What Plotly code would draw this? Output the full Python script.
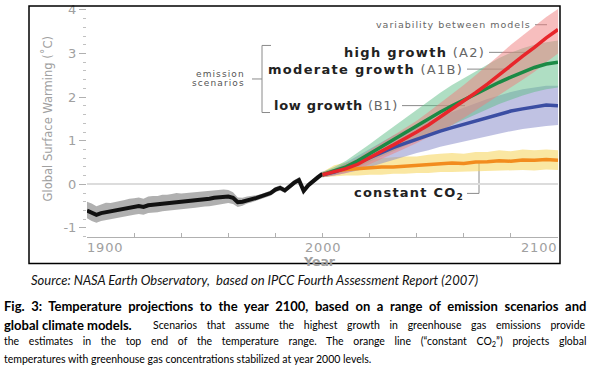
import plotly.graph_objects as go

W, H = 589, 368

# ---------------- data ----------------
hist_years = list(range(1900, 2001, 2))
hist_mean = [-0.60, -0.66, -0.70, -0.66, -0.64, -0.62, -0.60, -0.58, -0.56, -0.53,
             -0.52, -0.50, -0.52, -0.48, -0.47, -0.46, -0.44, -0.43, -0.42, -0.40,
             -0.40, -0.38, -0.37, -0.36, -0.35, -0.34, -0.33, -0.31, -0.30, -0.29,
             -0.28, -0.31, -0.41, -0.40, -0.36, -0.34, -0.31, -0.28, -0.24, -0.20,
             -0.12, -0.08, -0.14, -0.04, 0.04, 0.10, -0.15, -0.02, 0.08, 0.16, 0.24]
hist_upper = [-0.40, -0.44, -0.50, -0.46, -0.42, -0.43, -0.40, -0.38, -0.36, -0.33,
              -0.32, -0.30, -0.33, -0.28, -0.27, -0.27, -0.24, -0.24, -0.22, -0.20,
              -0.21, -0.20, -0.19, -0.18, -0.17, -0.16, -0.15, -0.14, -0.13, -0.12,
              -0.13, -0.18, -0.30, -0.31, -0.28, -0.27, -0.25, -0.22, -0.18, -0.14,
              -0.06, -0.02, -0.08, 0.02, 0.10, 0.16, -0.09, 0.04, 0.14, 0.22, 0.30]
hist_lower = [-0.78, -0.84, -0.88, -0.84, -0.82, -0.80, -0.78, -0.76, -0.74, -0.72,
              -0.70, -0.68, -0.70, -0.66, -0.65, -0.64, -0.62, -0.61, -0.60, -0.58,
              -0.58, -0.56, -0.55, -0.54, -0.53, -0.51, -0.50, -0.48, -0.47, -0.45,
              -0.43, -0.45, -0.52, -0.49, -0.44, -0.41, -0.37, -0.34, -0.30, -0.26,
              -0.18, -0.14, -0.20, -0.10, -0.02, 0.04, -0.21, -0.08, 0.02, 0.10, 0.18]

proj_years = list(range(2000, 2101, 5))
a2_mean = [0.22, 0.28, 0.36, 0.46, 0.62, 0.76, 0.90, 1.04, 1.20, 1.36, 1.54,
           1.72, 1.90, 2.10, 2.30, 2.52, 2.74, 2.94, 3.14, 3.36, 3.55]
a2_lower = [0.16, 0.20, 0.26, 0.34, 0.46, 0.58, 0.70, 0.82, 0.95, 1.08, 1.22,
            1.36, 1.52, 1.68, 1.86, 2.04, 2.22, 2.40, 2.58, 2.80, 3.00]
a2_upper = [0.28, 0.36, 0.46, 0.60, 0.78, 0.95, 1.12, 1.28, 1.46, 1.66, 1.86,
            2.06, 2.28, 2.50, 2.72, 2.96, 3.20, 3.42, 3.64, 3.84, 4.02]

a1b_mean = [0.22, 0.30, 0.40, 0.54, 0.70, 0.86, 1.02, 1.18, 1.36, 1.52, 1.66,
            1.80, 1.94, 2.08, 2.22, 2.34, 2.46, 2.58, 2.68, 2.76, 2.80]
a1b_lower = [0.16, 0.22, 0.30, 0.40, 0.52, 0.64, 0.76, 0.88, 1.00, 1.12, 1.24,
             1.36, 1.48, 1.60, 1.72, 1.84, 1.94, 2.04, 2.12, 2.18, 2.22]
a1b_upper = [0.28, 0.40, 0.54, 0.72, 0.92, 1.12, 1.32, 1.52, 1.72, 1.92, 2.10,
             2.28, 2.44, 2.60, 2.76, 2.90, 3.02, 3.12, 3.20, 3.26, 3.30]

b1_mean = [0.22, 0.28, 0.38, 0.50, 0.62, 0.74, 0.84, 0.94, 1.04, 1.12, 1.22,
           1.30, 1.38, 1.46, 1.54, 1.60, 1.68, 1.73, 1.78, 1.82, 1.80]
b1_lower = [0.16, 0.20, 0.26, 0.32, 0.40, 0.48, 0.56, 0.64, 0.72, 0.78, 0.86,
            0.92, 0.98, 1.04, 1.10, 1.16, 1.22, 1.27, 1.31, 1.34, 1.36]
b1_upper = [0.28, 0.36, 0.50, 0.66, 0.82, 0.98, 1.12, 1.24, 1.36, 1.46, 1.56,
            1.66, 1.76, 1.86, 1.96, 2.04, 2.12, 2.18, 2.22, 2.26, 2.26]

co2_mean = [0.22, 0.30, 0.34, 0.36, 0.37, 0.40, 0.40, 0.42, 0.43, 0.45, 0.47,
            0.49, 0.48, 0.51, 0.52, 0.54, 0.53, 0.56, 0.55, 0.57, 0.55]
co2_lower = [0.16, 0.18, 0.20, 0.20, 0.22, 0.22, 0.24, 0.24, 0.26, 0.26, 0.28,
             0.28, 0.28, 0.30, 0.30, 0.32, 0.32, 0.33, 0.32, 0.34, 0.33]
co2_upper = [0.28, 0.44, 0.50, 0.54, 0.56, 0.60, 0.62, 0.64, 0.64, 0.68, 0.70,
             0.72, 0.70, 0.74, 0.74, 0.78, 0.76, 0.80, 0.78, 0.80, 0.78]

y_ticks = [-1, 0, 1, 2, 3, 4]
y_tick_labels = ["-1", "0", "1", "2", "3", "4"]
x_tick_labels = ["1900", "2000", "2100"]

# ---------------- figure ----------------
def px(x):
    return x / W


def py(y):
    return 1 - y / H


fig = go.Figure()


def band(x, lo, hi, color):
    fig.add_trace(go.Scatter(x=x + x[::-1], y=hi + lo[::-1], fill="toself",
                             fillcolor=color, line=dict(width=0),
                             mode="lines", hoverinfo="skip", showlegend=False))


def line(x, y, color, width):
    fig.add_trace(go.Scatter(x=x, y=y, mode="lines",
                             line=dict(color=color, width=width),
                             showlegend=False))


band(hist_years, hist_lower, hist_upper, "rgba(150,150,150,0.75)")
band(proj_years, co2_lower, co2_upper, "rgba(246,215,100,0.6)")
band(proj_years, b1_lower, b1_upper, "rgba(130,134,200,0.5)")
band(proj_years, a1b_lower, a1b_upper, "rgba(95,190,135,0.5)")
band(proj_years, a2_lower, a2_upper, "rgba(240,125,125,0.5)")

line(hist_years, hist_mean, "#111111", 4)
line(proj_years, co2_mean, "#f28c1e", 3.5)
line(proj_years, b1_mean, "#3b4ea3", 3.5)
line(proj_years, a1b_mean, "#1b8a45", 3.5)
line(proj_years, a2_mean, "#e8262b", 3.5)

x0, x1 = 87, 558
ybot, ytop = 235, 3
zero_py, unit = 181.8, 44.2

fig.update_layout(
    width=W, height=H,
    margin=dict(l=0, r=0, t=0, b=0),
    paper_bgcolor="white", plot_bgcolor="white",
    xaxis=dict(domain=[px(x0), px(x1)], range=[1900, 2100],
               showgrid=False, zeroline=False, showline=True,
               linecolor="#b0b0b0", linewidth=1.2,
               ticks="inside", ticklen=4, tickcolor="#b0b0b0",
               tick0=1900, dtick=20, showticklabels=False),
    yaxis=dict(domain=[py(ybot), py(ytop)],
               range=[(zero_py - ybot) / unit, (zero_py - ytop) / unit],
               showgrid=False, showline=False,
               zeroline=True, zerolinecolor="#dcdcdc", zerolinewidth=1.5,
               tickmode="array", tickvals=y_ticks, ticktext=y_tick_labels,
               ticks="outside", ticklen=7, tickcolor="#b0b0b0",
               ticklabeloverflow="allow",
               tickfont=dict(family="DejaVu Sans", size=13, color="#a0a0a0"),
               minor=dict(dtick=0.2, tick0=0, ticks="outside", ticklen=3,
                          tickcolor="#c0c0c0")),
    font=dict(family="DejaVu Sans"),
)

shapes = []
# outer box
shapes.append(dict(type="rect", xref="paper", yref="paper",
                   x0=px(29), x1=px(560), y0=py(262), y1=py(1),
                   line=dict(color="black", width=1.5), layer="above"))


def seg(xa, ya, xb, yb, color="#8a8a8a", width=1):
    shapes.append(dict(type="line", xref="paper", yref="paper",
                       x0=px(xa), y0=py(ya), x1=px(xb), y1=py(yb),
                       line=dict(color=color, width=width), layer="below"))


# bracket for emission scenarios
seg(262, 41, 262, 109)
seg(262, 41, 271, 41)
seg(262, 109, 270, 109)
seg(252, 75, 262, 75)
# connector lines
seg(535, 20, 547, 20)
seg(489, 48, 527, 48)
seg(467, 65, 510, 65)
seg(402, 102, 465, 102)
seg(467, 191, 479, 191)
seg(479, 191, 479, 158)
fig.update_layout(shapes=shapes)

ann = []


def text(x, y, s, size, color="#222", xanchor="left", yanchor="middle",
         family="DejaVu Sans", angle=0, ls=None, ws=None):
    if ls is not None or ws is not None:
        st = []
        if ls is not None:
            st.append("letter-spacing:%spx" % ls)
        if ws is not None:
            st.append("word-spacing:%spx" % ws)
        s = "<span style='%s'>%s</span>" % (";".join(st), s)
    ann.append(dict(xref="paper", yref="paper", x=px(x), y=py(y), text=s,
                    showarrow=False, xanchor=xanchor, yanchor=yanchor,
                    textangle=angle,
                    font=dict(family=family, size=size, color=color)))


GREY = "#a0a0a0"
# axis labels
text(85, 246, x_tick_labels[0], 13, GREY, "left", ls=0.8)
text(323, 246, x_tick_labels[1], 13, GREY, "center", ls=0.8)
text(559, 246, x_tick_labels[2], 13, GREY, "right", ls=0.8)
text(319, 260, "<b>Year</b>", 12.5, GREY, "center")
text(47, 116, "Global Surface Warming (˚C)", 11.5, GREY, "center", angle=-90)

# series labels
text(533, 20, "variability between models", 9.5, "#666", "right", ls=1)
text(487, 48, "<b>high growth</b> <span style='fill:#666'>(A2)</span>", 13, "#222", "right", ls=1.3)
text(465, 65, "<b>moderate growth</b> <span style='fill:#666'>(A1B)</span>", 13, "#222", "right", ls=1.3)
text(400, 102, "<b>low growth</b> <span style='fill:#666'>(B1)</span>", 13, "#222", "right", ls=0.7)
text(466, 191, "<b>constant CO<sub>2</sub></b>", 13, "#222", "right", ls=1.2)
text(247, 69.5, "emission", 9, "#555", "right", ls=1.1)
text(247, 79.5, "scenarios", 9, "#555", "right", ls=1.1)

# caption
cap = "Lato"
text(29, 279, "<i>Source: NASA Earth Observatory,  based on IPCC Fourth Assessment Report (2007)</i>",
     13, "#111", family=cap)
text(2, 305, "<b>Fig. 3: Temperature projections to the year 2100, based on a range of emission scenarios and</b>",
     13, "#000", family=cap, ws=3.4)
text(2, 324, "<b>global climate models.</b>", 13, "#000", family=cap)
text(151, 324, "Scenarios that assume the highest growth in greenhouse gas emissions provide",
     10.5, "#000", family=cap, ws=7)
text(2, 342, "the estimates in the top end of the temperature range. The orange line (\u201cconstant CO<sub>2</sub>\u201d) projects global",
     10.5, "#000", family=cap, ws=7)
text(2, 359, "temperatures with greenhouse gas concentrations stabilized at year 2000 levels.",
     10.5, "#000", family=cap)

fig.update_layout(annotations=ann)

fig.write_html("out.html", config={"displayModeBar": False},
               post_script="document.body.style.margin='0';")
